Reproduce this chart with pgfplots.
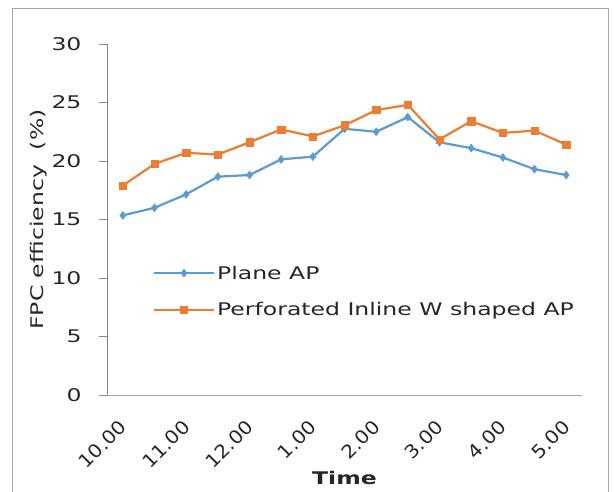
\documentclass[border=0pt]{standalone}
\usepackage{pgfplots}
\pgfplotsset{compat=1.18}
\usepackage{fontspec}
\setmainfont{DejaVu Sans}[FakeStretch=1.35]
\newfontfamily\plainfont{DejaVu Sans}[FakeStretch=1.1]
\definecolor{cblue}{HTML}{5B9BD5}
\definecolor{corange}{HTML}{ED7D31}
\definecolor{axgray}{HTML}{868686}
\begin{document}
\begin{tikzpicture}[x=1bp,y=1bp]
\useasboundingbox (-107bp,-97bp) rectangle (507bp,395bp);
\draw[color=black!35, line width=0.8bp] (-95bp,-97bp) -- (-95bp,387bp) -- (501bp,387bp) -- (501bp,-97bp);
\begin{axis}[
  at={(0,0)}, anchor=south west,
  scale only axis, width=475bp, height=351bp,
  xmin=-0.5, xmax=14.5, ymin=0, ymax=30,
  ytick={0,5,...,30},
  xtick={0,2,...,14},
  xticklabels={10.00,11.00,12.00,1.00,2.00,3.00,4.00,5.00},
  /pgf/number format/assume math mode=true,
  axis x line*=bottom, axis y line*=left,
  axis line style={color=axgray, line width=0.8bp, -},
  x axis line style={color=black!35},
  xtick style={draw=none},
  ytick style={color=axgray, line width=0.8bp},
  tick align=outside, major tick length=8bp,
  yticklabel style={font=\fontsize{17.5}{20}\selectfont, color=black!85, xshift=-14bp},
  xticklabel style={font=\plainfont\fontsize{18.5}{20}\selectfont, color=black!85, rotate=45, anchor=north east, inner sep=0pt, xshift=-14.1bp, yshift=-7.5bp},
  xlabel={\bfseries Time}, xlabel style={font=\fontsize{17.5}{20}\selectfont, color=black!85, at={(0.5,0)}, anchor=center, yshift=-83bp},
  ylabel={FPC efficiency\ \ (\%)}, ylabel style={font=\fontsize{17.5}{20}\selectfont, color=black!85, yshift=-2bp},
  legend style={at={(0.09,0.38)}, anchor=north west, draw=none, fill=none,
    font=\fontsize{17.5}{20}\selectfont, text=black!85, row sep=18bp},
  legend cell align=left,
  legend image code/.code={\draw[#1] (0bp,0bp) -- (30bp,0bp) plot coordinates {(30bp,0bp)} -- (60bp,0bp);},
]
\addplot[color=cblue, line width=2.2bp, mark=diamond*, mark size=4bp, mark options={line width=0.5bp}] coordinates {
(0,15.35) (1,16.0) (2,17.15) (3,18.66) (4,18.8) (5,20.14) (6,20.37) (7,22.75)
(8,22.5) (9,23.75) (10,21.6) (11,21.1) (12,20.3) (13,19.3) (14,18.8)};
\addlegendentry{Plane AP}
\addplot[color=corange, line width=2.2bp, mark=square*, mark size=3.6bp, mark options={line width=0.5bp}] coordinates {
(0,17.9) (1,19.75) (2,20.7) (3,20.55) (4,21.6) (5,22.7) (6,22.1) (7,23.05)
(8,24.35) (9,24.8) (10,21.85) (11,23.4) (12,22.4) (13,22.6) (14,21.4)};
\addlegendentry{Perforated Inline W shaped AP}
\end{axis}
\end{tikzpicture}
\end{document}
